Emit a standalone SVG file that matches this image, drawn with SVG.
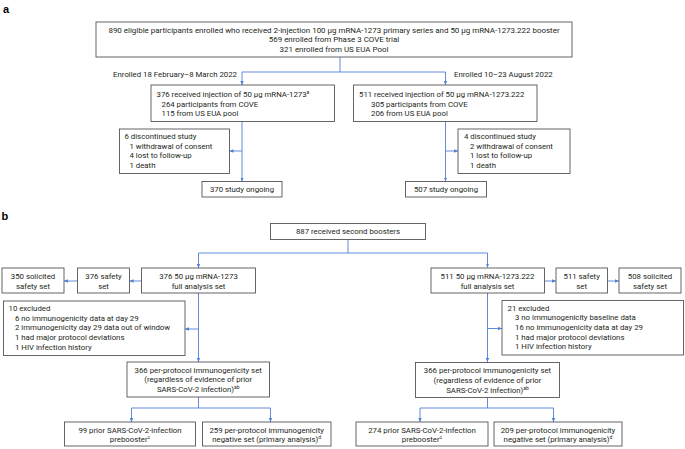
<svg xmlns="http://www.w3.org/2000/svg" width="685" height="449" viewBox="0 0 685 449">
<defs>
<marker id="ah" viewBox="0 0 6 6" refX="6" refY="3" markerWidth="4" markerHeight="4" orient="auto" markerUnits="userSpaceOnUse">
<path d="M0,0.5 L6,3 L0,5.5 z" fill="#4f7fd6"/>
</marker>
<style>
.box{fill:#fff;stroke:#555;stroke-width:0.9}
.t{font-family:Roboto,"Liberation Sans",sans-serif;font-size:7.8px;fill:#231f20}
.w{font-size:7.95px}
.m{text-anchor:middle}
.lbl{font-family:"Liberation Sans",Arial,sans-serif;font-size:11px;font-weight:bold;fill:#000}
.c{stroke:#4f7fd6;stroke-width:0.9;fill:none}
.s{font-size:5px}
</style>
</defs>
<rect width="685" height="449" fill="#fff"/>
<text class="lbl" x="3" y="12.5">a</text>
<text class="lbl" x="1.5" y="220">b</text>

<g id="connectors">
<path class="c" d="M340 57 V72 H242 V85" marker-end="url(#ah)"/>
<path class="c" d="M340 72 H445.5 V85" marker-end="url(#ah)"/>
<path class="c" d="M242 121.5 V181.5" marker-end="url(#ah)"/>
<path class="c" d="M242 151 H229.5" marker-end="url(#ah)"/>
<path class="c" d="M445.5 121.5 V181.5" marker-end="url(#ah)"/>
<path class="c" d="M445.5 151 H458" marker-end="url(#ah)"/>

<path class="c" d="M348 239.5 V253 H198.5 V268" marker-end="url(#ah)"/>
<path class="c" d="M348 253 H487.5 V267.5" marker-end="url(#ah)"/>
<path class="c" d="M141.5 281 H129.5" marker-end="url(#ah)"/>
<path class="c" d="M77.5 281 H64" marker-end="url(#ah)"/>
<path class="c" d="M544.5 281 H556" marker-end="url(#ah)"/>
<path class="c" d="M607.5 281 H619" marker-end="url(#ah)"/>
<path class="c" d="M198.5 293 V362" marker-end="url(#ah)"/>
<path class="c" d="M198.5 329 H185" marker-end="url(#ah)"/>
<path class="c" d="M487.5 293 V362" marker-end="url(#ah)"/>
<path class="c" d="M487.5 328.5 H502" marker-end="url(#ah)"/>
<path class="c" d="M198.5 397 V408 H131.5 V422" marker-end="url(#ah)"/>
<path class="c" d="M198.5 408 H270.5 V422" marker-end="url(#ah)"/>
<path class="c" d="M487.5 397 V408 H420 V422" marker-end="url(#ah)"/>
<path class="c" d="M487.5 408 H553.5 V422" marker-end="url(#ah)"/>
</g>

<g id="top">
<rect class="box" x="96" y="22" width="476" height="35"/>
<text class="t w m" x="334" y="32.5">890 eligible participants enrolled who received 2-injection 100 µg mRNA-1273 primary series and 50 µg mRNA-1273.222 booster</text>
<text class="t w m" x="334" y="42">569 enrolled from Phase 3 COVE trial</text>
<text class="t w m" x="334" y="51.5">321 enrolled from US EUA Pool</text>
</g>
<text class="t" x="237" y="76.5" text-anchor="end">Enrolled 18 February–8 March 2022</text>
<text class="t" x="454" y="76.5">Enrolled 10–23 August 2022</text>

<g id="a-left">
<rect class="box" x="151" y="85" width="183.5" height="36.5"/>
<text class="t" x="156.5" y="96.5">376 received injection of 50 µg mRNA-1273<tspan class="s" dy="-3">a</tspan></text>
<text class="t" x="161.5" y="106.5">264 participants from COVE</text>
<text class="t" x="161.5" y="116">115 from US EUA pool</text>
</g>
<g id="a-right">
<rect class="box" x="353.5" y="85" width="183.5" height="36.5"/>
<text class="t" x="359" y="96.5">511 received injection of 50 µg mRNA-1273.222</text>
<text class="t" x="371" y="106.5">305 participants from COVE</text>
<text class="t" x="371" y="116">206 from US EUA pool</text>
</g>
<g id="a-disc-left">
<rect class="box" x="119.5" y="129" width="110" height="44.5"/>
<text class="t" x="124.5" y="139">6 discontinued study</text>
<text class="t" x="129.5" y="148.5">1 withdrawal of consent</text>
<text class="t" x="129.5" y="158">4 lost to follow-up</text>
<text class="t" x="129.5" y="167.5">1 death</text>
</g>
<g id="a-disc-right">
<rect class="box" x="458" y="129" width="112" height="44.5"/>
<text class="t" x="464" y="139">4 discontinued study</text>
<text class="t" x="470" y="148.5">2 withdrawal of consent</text>
<text class="t" x="470" y="158">1 lost to follow-up</text>
<text class="t" x="470" y="167.5">1 death</text>
</g>
<g id="a-ong-left">
<rect class="box" x="202" y="181.5" width="80" height="15.5"/>
<text class="t m" x="242" y="192">370 study ongoing</text>
</g>
<g id="a-ong-right">
<rect class="box" x="405.5" y="181.5" width="81" height="15.5"/>
<text class="t m" x="446" y="192">507 study ongoing</text>
</g>

<g id="b-top">
<rect class="box" x="270.5" y="223.5" width="155" height="16"/>
<text class="t m" x="348" y="234.3">887 received second boosters</text>
</g>
<g id="b-sol-left">
<rect class="box" x="2" y="268" width="62" height="25"/>
<text class="t m" x="33" y="278.5">350 solicited</text>
<text class="t m" x="33" y="288.5">safety set</text>
</g>
<g id="b-saf-left">
<rect class="box" x="77.5" y="268" width="52" height="25"/>
<text class="t m" x="103.5" y="278.5">376 safety</text>
<text class="t m" x="103.5" y="288.5">set</text>
</g>
<g id="b-fas-left">
<rect class="box" x="141.5" y="268" width="114" height="25"/>
<text class="t m" x="198.5" y="278.5">376 50 µg mRNA-1273</text>
<text class="t m" x="198.5" y="288.5">full analysis set</text>
</g>
<g id="b-fas-right">
<rect class="box" x="431" y="268" width="113.5" height="25"/>
<text class="t m" x="487.5" y="278.5">511 50 µg mRNA-1273.222</text>
<text class="t m" x="487.5" y="288.5">full analysis set</text>
</g>
<g id="b-saf-right">
<rect class="box" x="556" y="268" width="51.5" height="25"/>
<text class="t m" x="581.7" y="278.5">511 safety</text>
<text class="t m" x="581.7" y="288.5">set</text>
</g>
<g id="b-sol-right">
<rect class="box" x="619" y="268" width="62" height="25"/>
<text class="t m" x="650" y="278.5">508 solicited</text>
<text class="t m" x="650" y="288.5">safety set</text>
</g>
<g id="b-exc-left">
<rect class="box" x="3.5" y="301" width="181.5" height="54.5"/>
<text class="t" x="8.5" y="311">10 excluded</text>
<text class="t" x="15" y="320.7">6 no immunogenicity data at day 29</text>
<text class="t" x="15" y="330.4">2 immunogenicity day 29 data out of window</text>
<text class="t" x="15" y="340.1">1 had major protocol deviations</text>
<text class="t" x="15" y="349.8">1 HIV infection history</text>
</g>
<g id="b-exc-right">
<rect class="box" x="502" y="300.5" width="181.5" height="54.5"/>
<text class="t" x="507.5" y="310.5">21 excluded</text>
<text class="t" x="515" y="320.2">3 no immunogenicity baseline data</text>
<text class="t" x="515" y="329.9">16 no immunogenicity data at day 29</text>
<text class="t" x="515" y="339.6">1 had major protocol deviations</text>
<text class="t" x="515" y="349.3">1 HIV infection history</text>
</g>
<g id="b-pp-left">
<rect class="box" x="127" y="362" width="142.5" height="35"/>
<text class="t m" x="198.2" y="372.5">366 per-protocol immunogenicity set</text>
<text class="t m" x="198.2" y="382.3">(regardless of evidence of prior</text>
<text class="t m" x="198.2" y="392.1">SARS-CoV-2 infection)<tspan class="s" dy="-3">ab</tspan></text>
</g>
<g id="b-pp-right">
<rect class="box" x="415.5" y="362.5" width="144" height="35"/>
<text class="t m" x="487.5" y="373">366 per-protocol immunogenicity set</text>
<text class="t m" x="487.5" y="382.8">(regardless of evidence of prior</text>
<text class="t m" x="487.5" y="392.6">SARS-CoV-2 infection)<tspan class="s" dy="-3">ab</tspan></text>
</g>
<g id="b-prior-left">
<rect class="box" x="64.5" y="422" width="131" height="24"/>
<text class="t m" x="130" y="432.5">99 prior SARS-CoV-2-infection</text>
<text class="t m" x="130" y="442.3">prebooster<tspan class="s" dy="-3">c</tspan></text>
</g>
<g id="b-neg-left">
<rect class="box" x="202.5" y="422" width="128.5" height="24"/>
<text class="t m" x="266.7" y="432.5">259 per-protocol immunogenicity</text>
<text class="t m" x="266.7" y="442.3">negative set (primary analysis)<tspan class="s" dy="-3">d</tspan></text>
</g>
<g id="b-prior-right">
<rect class="box" x="356" y="422" width="132" height="24"/>
<text class="t m" x="422" y="432.5">274 prior SARS-CoV-2-infection</text>
<text class="t m" x="422" y="442.3">prebooster<tspan class="s" dy="-3">c</tspan></text>
</g>
<g id="b-neg-right">
<rect class="box" x="494" y="422" width="128" height="24"/>
<text class="t m" x="558" y="432.5">209 per-protocol immunogenicity</text>
<text class="t m" x="558" y="442.3">negative set (primary analysis)<tspan class="s" dy="-3">d</tspan></text>
</g>
</svg>
